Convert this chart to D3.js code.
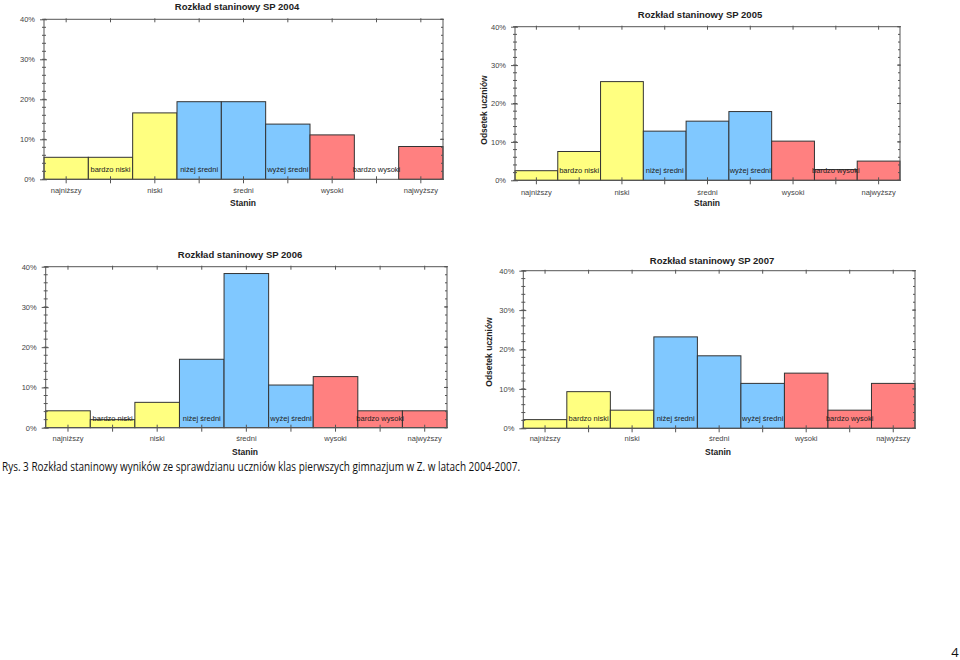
<!DOCTYPE html>
<html>
<head>
<meta charset="utf-8">
<script src="https://cdn.jsdelivr.net/npm/d3@7"></script>
<style>
  html, body { margin: 0; padding: 0; background: #fff; }
  svg { display: block; }
</style>
</head>
<body>
<svg id="page" width="960" height="660"></svg>
<script>
// ---------- DATA ----------
const categories = ["najniższy", "bardzo niski", "niski", "niżej średni", "średni",
                    "wyżej średni", "wysoki", "bardzo wysoki", "najwyższy"];
const groups = ["low", "low", "low", "mid", "mid", "mid", "high", "high", "high"];
const years = ["2004", "2005", "2006", "2007"];
const values2004 = [5.5, 5.5, 16.6, 19.4, 19.4, 13.8, 11.1, 0, 8.2];
const values2005 = [2.5, 7.5, 25.7, 12.8, 15.4, 17.9, 10.2, 2.8, 5.0];
const values2006 = [4.2, 2.0, 6.3, 17.0, 38.3, 10.6, 12.7, 4.2, 4.2];
const values2007 = [2.2, 9.3, 4.6, 23.2, 18.4, 11.4, 14.0, 4.6, 11.4];
const yTicks = [0, 10, 20, 30, 40];
const titlePrefix = "Rozkład staninowy SP ";
const xTitle = "Stanin";
const yTitle = "Odsetek uczniów";
const caption = "Rys. 3 Rozkład staninowy wyników ze sprawdzianu uczniów klas pierwszych gimnazjum w Z. w latach 2004-2007.";
const pageNumber = "4";

const colors = { low: "#ffff80", mid: "#80c8ff", high: "#ff8080" };

// ---------- LAYOUT ----------
const layouts = [
  { year: "2004", values: values2004, left: 44, right: 443, top: 19.3, bottom: 179.3,
    titleX: 237, titleY: 10, labelY: 193, stanX: 243, stanY: 206, yTitle: false },
  { year: "2005", values: values2005, left: 515, right: 900, top: 26.7, bottom: 180.3,
    titleX: 700, titleY: 18, labelY: 195, stanX: 707, stanY: 206, yTitle: true, yTitleX: 487, yTitleY: 110 },
  { year: "2006", values: values2006, left: 45.7, right: 447, top: 266.7, bottom: 427.7,
    titleX: 240, titleY: 258, labelY: 441, stanX: 245, stanY: 455, yTitle: false },
  { year: "2007", values: values2007, left: 523.3, right: 915, top: 270.7, bottom: 428.3,
    titleX: 712, titleY: 264, labelY: 441, stanX: 718, stanY: 455, yTitle: true, yTitleX: 492, yTitleY: 352 }
];

const svg = d3.select("#page");
const font = "Arial, 'Liberation Sans', sans-serif";

function drawChart(cfg) {
  const g = svg.append("g");
  const x = d3.scaleBand().domain(categories).range([cfg.left, cfg.right]).padding(0);
  const y = d3.scaleLinear().domain([0, 40]).range([cfg.bottom, cfg.top]);

  // bars
  g.selectAll("rect.bar").data(categories).enter().append("rect")
    .attr("class", "bar")
    .attr("x", d => x(d))
    .attr("width", x.bandwidth())
    .attr("y", (d, i) => y(cfg.values[i]))
    .attr("height", (d, i) => y(0) - y(cfg.values[i]))
    .attr("fill", (d, i) => colors[groups[i]])
    .attr("stroke", "#333")
    .attr("stroke-width", 1);

  // plot frame
  g.append("rect")
    .attr("x", cfg.left).attr("y", cfg.top)
    .attr("width", cfg.right - cfg.left).attr("height", cfg.bottom - cfg.top)
    .attr("fill", "none").attr("stroke", "#555").attr("stroke-width", 1);

  // left axis
  const minor = d3.range(0, 40.01, 2);
  const yAxisL = d3.axisLeft(y).tickValues(yTicks).tickFormat(d => d + "%").tickSize(4).tickPadding(5);
  const ga = g.append("g").attr("transform", `translate(${cfg.left},0)`).call(yAxisL);
  ga.select(".domain").remove();
  ga.selectAll("text").attr("font-family", font).attr("font-size", 7.5).attr("fill", "#444");
  ga.selectAll("line").attr("stroke", "#555").attr("x2", -4).attr("x1", 3);
  // minor ticks left & right
  g.selectAll("line.minL").data(minor).enter().append("line")
    .attr("x1", cfg.left - 2).attr("x2", cfg.left + 2)
    .attr("y1", d => y(d)).attr("y2", d => y(d))
    .attr("stroke", "#555");
  g.selectAll("line.minR").data(minor).enter().append("line")
    .attr("x1", cfg.right - 2).attr("x2", cfg.right)
    .attr("y1", d => y(d)).attr("y2", d => y(d))
    .attr("stroke", "#555");
  g.selectAll("line.majR").data(yTicks).enter().append("line")
    .attr("x1", cfg.right - 3).attr("x2", cfg.right + 1)
    .attr("y1", d => y(d)).attr("y2", d => y(d))
    .attr("stroke", "#555");

  // top & bottom ticks at category centers
  const cx = d => x(d) + x.bandwidth() / 2;
  g.selectAll("line.tickT").data(categories).enter().append("line")
    .attr("x1", cx).attr("x2", cx)
    .attr("y1", cfg.top - 1).attr("y2", cfg.top + 3)
    .attr("stroke", "#555");
  g.selectAll("line.tickB").data(categories).enter().append("line")
    .attr("x1", cx).attr("x2", cx)
    .attr("y1", cfg.bottom - 3).attr("y2", cfg.bottom + 4)
    .attr("stroke", "#555");

  // category labels: odd below axis, even inside plot at bottom
  g.selectAll("text.cat").data(categories).enter().append("text")
    .attr("x", cx)
    .attr("y", (d, i) => i % 2 === 0 ? cfg.labelY : cfg.bottom - 7)
    .attr("text-anchor", "middle")
    .attr("font-family", font).attr("font-size", 7.5)
    .attr("fill", (d, i) => i % 2 === 0 ? "#444" : "#222")
    .text(d => d);

  // title
  g.append("text").attr("x", cfg.titleX).attr("y", cfg.titleY)
    .attr("text-anchor", "middle").attr("font-family", font)
    .attr("font-weight", "bold").attr("font-size", 9.5).attr("fill", "#222")
    .text(titlePrefix + cfg.year);

  // x title
  g.append("text").attr("x", cfg.stanX).attr("y", cfg.stanY)
    .attr("text-anchor", "middle").attr("font-family", font)
    .attr("font-weight", "bold").attr("font-size", 8.5).attr("fill", "#222")
    .text(xTitle);

  if (cfg.yTitle) {
    g.append("text")
      .attr("transform", `translate(${cfg.yTitleX},${cfg.yTitleY}) rotate(-90)`)
      .attr("text-anchor", "middle").attr("font-family", font)
      .attr("font-weight", "bold").attr("font-size", 8.5).attr("fill", "#222")
      .text(yTitle);
  }
}

layouts.forEach(drawChart);

// caption
svg.append("text").attr("x", 2).attr("y", 471)
  .attr("font-family", "'Open Sans', 'Liberation Sans', sans-serif")
  .attr("font-size", 12).attr("fill", "#111")
  .attr("textLength", 518).attr("lengthAdjust", "spacingAndGlyphs")
  .text(caption);

// page number
svg.append("text").attr("x", 955).attr("y", 657)
  .attr("text-anchor", "middle")
  .attr("font-family", "'Open Sans', 'Liberation Sans', sans-serif")
  .attr("font-size", 13).attr("fill", "#111")
  .text(pageNumber);
</script>
</body>
</html>
